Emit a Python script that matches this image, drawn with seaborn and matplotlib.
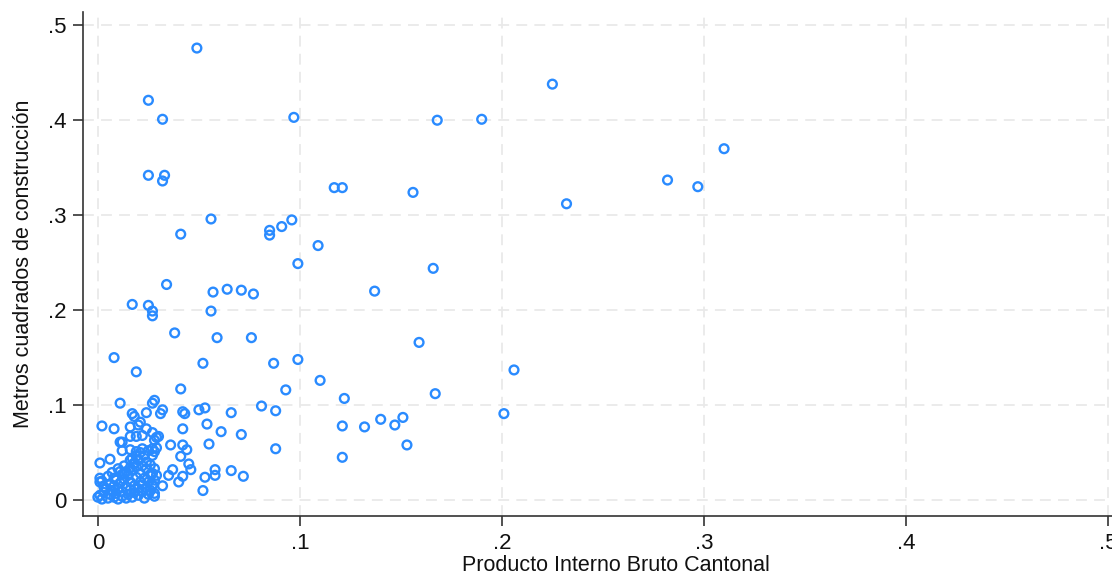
import matplotlib
matplotlib.use("Agg")
import matplotlib.pyplot as plt
import seaborn as sns
import pandas as pd

# ---- data ----
pib = [
    0.049, 0.025, 0.032, 0.097, 0.225, 0.168, 0.190, 0.310, 0.025, 0.033,
    0.032, 0.117, 0.121, 0.156, 0.282, 0.297, 0.232, 0.056, 0.096, 0.091,
    0.085, 0.085, 0.041, 0.109, 0.099, 0.166, 0.034, 0.064, 0.071, 0.077,
    0.057, 0.137, 0.017, 0.025, 0.027, 0.027, 0.056, 0.038, 0.059, 0.076,
    0.159, 0.008, 0.052, 0.087, 0.099, 0.019, 0.206, 0.110, 0.041, 0.093,
    0.167, 0.122, 0.201, 0.081, 0.088, 0.066, 0.053, 0.050, 0.140, 0.151,
    0.147, 0.132, 0.121, 0.054, 0.061, 0.071, 0.055, 0.153, 0.088, 0.121,
    0.058, 0.058, 0.072, 0.066, 0.052,
    0.028, 0.027, 0.032, 0.031, 0.042, 0.043, 0.042, 0.027, 0.029, 0.028,
    0.036, 0.042, 0.044, 0.041, 0.027, 0.028, 0.027, 0.029, 0.045, 0.046,
    0.037, 0.035, 0.042, 0.040, 0.053, 0.028, 0.027, 0.029, 0.032, 0.027,
    0.028,
    0.011, 0.024, 0.017, 0.018, 0.002, 0.008, 0.016, 0.020, 0.021, 0.024,
    0.016, 0.019, 0.022, 0.030, 0.011, 0.012, 0.012, 0.016, 0.019, 0.022,
    0.025, 0.023, 0.001, 0.006, 0.016, 0.018, 0.001, 0.001, 0.008, 0.011,
    0.013, 0.028,
    0.000, 0.001, 0.002, 0.003, 0.004, 0.005, 0.006, 0.007, 0.008, 0.008,
    0.009, 0.010, 0.010, 0.011, 0.012, 0.012, 0.013, 0.014, 0.014, 0.015,
    0.015, 0.016, 0.016, 0.017, 0.017, 0.018, 0.018, 0.019, 0.019, 0.020,
    0.020, 0.021, 0.021, 0.022, 0.022, 0.023, 0.023, 0.024, 0.024, 0.025,
    0.025, 0.026, 0.026, 0.027, 0.014, 0.012, 0.009, 0.006, 0.003, 0.002,
    0.005, 0.018, 0.020, 0.022, 0.016, 0.013, 0.010, 0.007, 0.024, 0.026,
    0.019, 0.021, 0.017, 0.028,
]
m2 = [
    0.476, 0.421, 0.401, 0.403, 0.438, 0.400, 0.401, 0.370, 0.342, 0.342,
    0.336, 0.329, 0.329, 0.324, 0.337, 0.330, 0.312, 0.296, 0.295, 0.288,
    0.284, 0.279, 0.280, 0.268, 0.249, 0.244, 0.227, 0.222, 0.221, 0.217,
    0.219, 0.220, 0.206, 0.205, 0.199, 0.194, 0.199, 0.176, 0.171, 0.171,
    0.166, 0.150, 0.144, 0.144, 0.148, 0.135, 0.137, 0.126, 0.117, 0.116,
    0.112, 0.107, 0.091, 0.099, 0.094, 0.092, 0.097, 0.095, 0.085, 0.087,
    0.079, 0.077, 0.078, 0.080, 0.072, 0.069, 0.059, 0.058, 0.054, 0.045,
    0.032, 0.026, 0.025, 0.031, 0.010,
    0.105, 0.102, 0.095, 0.091, 0.093, 0.091, 0.075, 0.071, 0.066, 0.063,
    0.058, 0.058, 0.053, 0.046, 0.054, 0.051, 0.047, 0.055, 0.038, 0.032,
    0.032, 0.026, 0.025, 0.019, 0.024, 0.033, 0.028, 0.026, 0.015, 0.016,
    0.004,
    0.102, 0.092, 0.091, 0.088, 0.078, 0.075, 0.077, 0.079, 0.082, 0.075,
    0.067, 0.067, 0.068, 0.067, 0.061, 0.061, 0.052, 0.053, 0.051, 0.054,
    0.052, 0.047, 0.039, 0.043, 0.042, 0.039, 0.023, 0.019, 0.023, 0.030,
    0.028, 0.021,
    0.003, 0.005, 0.001, 0.008, 0.012, 0.002, 0.006, 0.010, 0.003, 0.015,
    0.007, 0.001, 0.012, 0.018, 0.004, 0.009, 0.022, 0.014, 0.002, 0.006,
    0.026, 0.011, 0.019, 0.031, 0.003, 0.008, 0.015, 0.024, 0.035, 0.012,
    0.005, 0.019, 0.028, 0.009, 0.016, 0.002, 0.023, 0.013, 0.033, 0.006,
    0.019, 0.010, 0.027, 0.015, 0.030, 0.027, 0.021, 0.017, 0.014, 0.020,
    0.025, 0.038, 0.042, 0.036, 0.034, 0.036, 0.033, 0.029, 0.040, 0.037,
    0.046, 0.050, 0.044, 0.007,
]
x_ticks = [0, 0.1, 0.2, 0.3, 0.4, 0.5]
x_tick_labels = ["0", ".1", ".2", ".3", ".4", ".5"]
y_ticks = [0, 0.1, 0.2, 0.3, 0.4, 0.5]
y_tick_labels = ["0", ".1", ".2", ".3", ".4", ".5"]
x_label = "Producto Interno Bruto Cantonal"
y_label = "Metros cuadrados de construcción"

df = pd.DataFrame({"pib": pib, "m2": m2})

sns.set_theme(style="white")
plt.rcParams["font.family"] = ["Liberation Sans", "DejaVu Sans"]

fig = plt.figure(figsize=(11.12, 5.76), dpi=100)
ax = fig.add_axes([0.0746, 0.1042, 0.958, 0.875])

sns.scatterplot(data=df, x="pib", y="m2", ax=ax, marker="o", s=40,
                facecolors="none", edgecolor="#2a8bff", linewidth=1.7,
                zorder=3)

ax.set_xlim(-0.0074, 0.5200)
ax.set_ylim(-0.0168, 0.514)

ax.set_xticks(x_ticks)
ax.set_xticklabels(x_tick_labels)
ax.set_yticks(y_ticks)
ax.set_yticklabels(y_tick_labels)

ax.grid(True, color="#e9e9e9", linestyle=(0, (6, 4)), linewidth=1.3, zorder=0)
ax.set_axisbelow(True)

for s in ["top", "right"]:
    ax.spines[s].set_visible(False)
for s in ["left", "bottom"]:
    ax.spines[s].set_color("#333333")
    ax.spines[s].set_linewidth(1.2)

ax.tick_params(axis="both", direction="out", length=7, width=1.2,
               color="#333333", labelsize=16, labelcolor="#111111",
               left=True, bottom=True, pad=5)

ax.set_xlabel(x_label, fontsize=15.5, color="#111111", labelpad=1)
ax.set_ylabel(y_label, fontsize=15.5, color="#111111", labelpad=10)

fig.savefig("out.png", dpi=100)
